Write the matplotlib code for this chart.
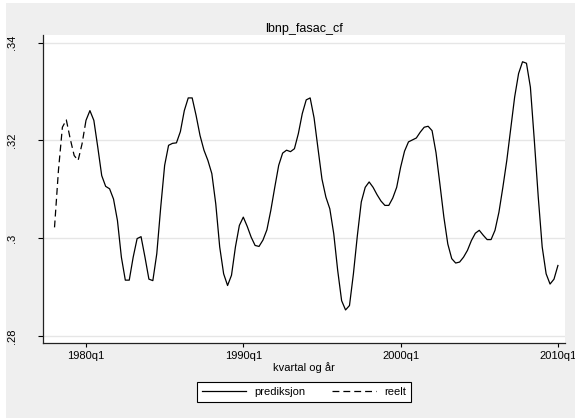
import numpy as np
import matplotlib
matplotlib.use("Agg")
import matplotlib.pyplot as plt
from matplotlib.patches import Rectangle

plt.rcParams["font.family"] = ["Liberation Sans", "DejaVu Sans"]

# quarters counted from 1980q1 (0 = 1980q1)
reelt_start = -8      # 1978q1
pred_start = 0        # 1980q1

reelt = [0.3022, 0.3139, 0.3227, 0.3242, 0.3203, 0.3169, 0.3159, 0.3193, 0.3241]

prediksjon = [
    0.3241, 0.3261, 0.3241, 0.3186, 0.3128, 0.3106, 0.3101, 0.3080, 0.3036, 0.2961,
    0.2914, 0.2914, 0.2961, 0.2999, 0.3003, 0.2961, 0.2916, 0.2913, 0.2968, 0.3063,
    0.3149, 0.3190, 0.3194, 0.3195, 0.3218, 0.3261, 0.3287, 0.3287, 0.3251, 0.3210,
    0.3180, 0.3159, 0.3132, 0.3070, 0.2982, 0.2927, 0.2903, 0.2924, 0.2982, 0.3026,
    0.3043, 0.3024, 0.3002, 0.2985, 0.2983, 0.2996, 0.3017, 0.3057, 0.3104, 0.3149,
    0.3174, 0.3180, 0.3177, 0.3183, 0.3214, 0.3255, 0.3283, 0.3287, 0.3246, 0.3183,
    0.3121, 0.3084, 0.3060, 0.3009, 0.2934, 0.2872, 0.2853, 0.2862, 0.2927, 0.3005,
    0.3074, 0.3104, 0.3115, 0.3104, 0.3089, 0.3076, 0.3067, 0.3067, 0.3082, 0.3104,
    0.3145, 0.3178, 0.3197, 0.3201, 0.3205, 0.3217, 0.3227, 0.3229, 0.3220, 0.3175,
    0.3110, 0.3043, 0.2988, 0.2958, 0.2949, 0.2951, 0.2961, 0.2975, 0.2995, 0.3010,
    0.3016, 0.3006, 0.2997, 0.2997, 0.3016, 0.3053, 0.3104, 0.3159, 0.3224, 0.3289,
    0.3337, 0.3361, 0.3358, 0.3309, 0.3200, 0.3084, 0.2982, 0.2927, 0.2906, 0.2916,
    0.2944,
]

x_ticks = [0, 40, 80, 120]
x_labels = ["1980q1", "1990q1", "2000q1", "2010q1"]
y_ticks = [0.28, 0.30, 0.32, 0.34]
y_labels = [".28", ".3", ".32", ".34"]

x_reelt = np.arange(len(reelt)) + reelt_start
x_pred = np.arange(len(prediksjon)) + pred_start

W, H = 575, 419
fig = plt.figure(figsize=(W / 100, H / 100), dpi=100, facecolor="white")

# grey graph region behind everything
fig.patches.append(Rectangle((6 / W, 1 / H), 1 - 6 / W, 1 - 4 / H,
                             transform=fig.transFigure, facecolor="#efefef",
                             edgecolor="none", zorder=-10))

ax = fig.add_axes([43 / W, 1 - 343.3 / H, (565 - 43) / W, (343.3 - 35) / H])
ax.set_facecolor("white")

ax.plot(x_pred, prediksjon, color="black", lw=0.9, label="prediksjon")
ax.plot(x_reelt, reelt, color="black", lw=0.9, dashes=(5.5, 3.2), label="reelt")

ax.set_xlim(-10.93, 121.8)
ax.set_ylim(0.27847, 0.34158)

ax.set_xticks(x_ticks)
ax.set_xticklabels(x_labels, fontsize=8)
ax.set_yticks(y_ticks)
ax.set_yticklabels(y_labels, fontsize=8, rotation=90, va="center")

ax.tick_params(axis="x", length=3, width=0.8, pad=2.5)
ax.tick_params(axis="y", length=3.6, width=0.8, pad=15)

ax.grid(axis="y", color="#e6e6e6", lw=1.0)
ax.set_axisbelow(True)

for s in ["top", "right"]:
    ax.spines[s].set_visible(False)
for s in ["left", "bottom"]:
    ax.spines[s].set_color("#222222")
    ax.spines[s].set_linewidth(0.9)

ax.set_xlabel("kvartal og år", fontsize=8, labelpad=1)
fig.text(304 / W, 1 - 29 / H, "lbnp_fasac_cf", ha="center", va="center", fontsize=9)

leg = fig.legend(loc="center", bbox_to_anchor=(303.7 / W, 1 - 391.5 / H), ncol=2,
                 fontsize=8, frameon=True, fancybox=False, edgecolor="black",
                 facecolor="white", framealpha=1, handlelength=4.0,
                 handletextpad=0.7, columnspacing=2.4, borderpad=0.45)
leg.get_frame().set_linewidth(0.8)

fig.savefig("out.png", dpi=100, facecolor=fig.get_facecolor())
